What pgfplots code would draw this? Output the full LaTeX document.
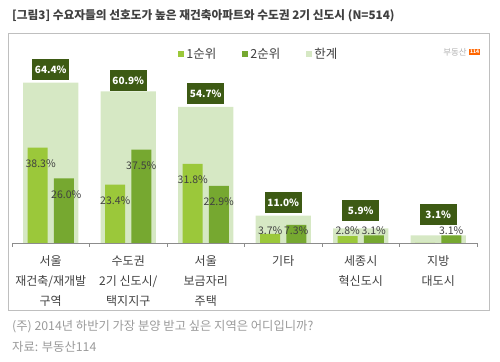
\documentclass[border=0pt]{standalone}
\usepackage{fontspec}
\setmainfont{Noto Sans CJK KR}
\usepackage{pgfplots}
\pgfplotsset{compat=1.18}
\definecolor{cfirst}{HTML}{9BC83A}
\definecolor{csecond}{HTML}{76A830}
\definecolor{ctotal}{HTML}{D6E8C4}
\definecolor{cbox}{HTML}{3D5A14}
\definecolor{ctext}{HTML}{404040}
\definecolor{cfoot}{HTML}{9A9A9A}
\begin{document}
\begin{tikzpicture}[x=1pt,y=1pt]
\path (0,0) rectangle (500,361);
\draw[black!25] (8,328) rectangle (489,51);
\node[anchor=west,inner sep=0,text=ctext,font=\fontsize{11.7}{13}\selectfont\bfseries] at (12,345) {[그림3] 수요자들의 선호도가 높은 재건축아파트와 수도권 2기 신도시 (N=514)};
\node[anchor=west,inner sep=0,text=cfoot,font=\fontsize{12.3}{13}\selectfont] at (12,34) {(주) 2014년 하반기 가장 분양 받고 싶은 지역은 어디입니까?};
\node[anchor=west,inner sep=0,text=cfoot,font=\fontsize{12.3}{13}\selectfont] at (12,14) {자료: 부동산114};
\node[anchor=east,inner sep=0,text=black!30,font=\fontsize{8.5}{9}\selectfont] at (467,309) {부동산};
\node[anchor=west,inner sep=0.8pt,fill=orange!80!red,text=white,font=\fontsize{5}{5}\selectfont\bfseries] at (469,309) {114};
\begin{axis}[
  scale only axis, width=465pt, height=174.3pt,
  at={(12pt,118pt)}, anchor=south west,
  xmin=-0.5, xmax=5.5, ymin=0, ymax=70,
  clip=false,
  axis x line=bottom, axis y line=none,
  axis line style={-, black!45},
  xtick={0,...,5}, major tick length=0pt,
  xticklabels={{서울\\재건축/재개발\\구역},{수도권\\2기 신도시/\\택지지구},{서울\\보금자리\\주택},{기타},{세종시\\혁신도시},{지방\\대도시}},
  xticklabel style={align=center, text=ctext, font=\fontsize{12}{20}\selectfont, anchor=north, yshift=-9pt},
  extra x ticks={-0.5,0.5,1.5,2.5,3.5,4.5,5.5},
  extra x tick labels={},
  extra x tick style={major tick length=4pt, tick align=outside, tick style={black!45}},
  legend columns=3,
  legend style={at={(0.531,1.085)}, anchor=center, draw=none, fill=none,
    font=\fontsize{12.5}{14}\selectfont, text=ctext,
    /tikz/every even column/.append style={column sep=24pt}},
  legend image code/.code={\fill[#1] (2pt,-3pt) rectangle (8pt,3pt);},
]
\addplot[ybar, bar width=0.71, bar shift=0, fill=ctotal, draw=none, forget plot]
  coordinates {(0,64.4) (1,60.9) (2,54.7) (3,11.0) (4,5.9) (5,3.1)};
\addplot[ybar, bar width=0.258, bar shift=-0.168, fill=cfirst, draw=none]
  coordinates {(0,38.3) (1,23.4) (2,31.8) (3,3.7) (4,2.8) (5,0)};
\addlegendentry{1순위}
\addplot[ybar, bar width=0.258, bar shift=0.168, fill=csecond, draw=none]
  coordinates {(0,26.0) (1,37.5) (2,22.9) (3,7.3) (4,3.1) (5,3.1)};
\addlegendentry{2순위}
\addlegendimage{fill=ctotal, draw=none}
\addlegendentry{한계}
% value labels
\addplot[draw=none, mark=none, forget plot, nodes near coords, point meta=explicit symbolic,
  every node near coord/.append style={anchor=center, text=ctext, font=\fontsize{10.5}{11}\selectfont}]
  table[meta=lab] {
x y lab
-0.13 31.9 38.3\%
0.832 17.0 23.4\%
1.832 25.4 31.8\%
2.832 4.8 3.7\%
3.832 4.8 2.8\%
0.20 19.6 26.0\%
1.168 31.1 37.5\%
2.168 16.5 22.9\%
3.168 4.8 7.3\%
4.168 4.8 3.1\%
5.168 4.8 3.1\%
};
% total labels
\addplot[draw=none, mark=none, forget plot, nodes near coords, point meta=explicit symbolic,
  every node near coord/.append style={anchor=center, fill=cbox, text=white, font=\fontsize{10}{11}\selectfont\bfseries, minimum width=37pt, minimum height=21pt, inner sep=2pt}]
  table[meta=lab] {
x y lab
0 69.7 64.4\%
1 65.3 60.9\%
2 59.9 54.7\%
3 16.3 11.0\%
4 13.1 5.9\%
5 11.4 3.1\%
};
\end{axis}
\end{tikzpicture}
\end{document}
